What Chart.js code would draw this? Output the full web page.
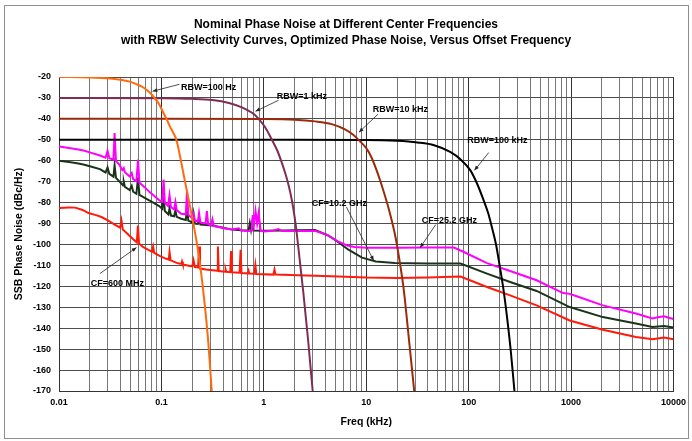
<!DOCTYPE html>
<html>
<head>
<meta charset="utf-8">
<script src="https://cdn.jsdelivr.net/npm/chart.js@4.4.1/dist/chart.umd.min.js"></script>
<style>
  body { margin: 0; background: #fff; }
  canvas { display: block; }
</style>
</head>
<body>
<canvas id="myChart" width="692" height="441"></canvas>
<script>
// offset frequency in kHz, level in dBc/Hz
const rbw100Hz = [[0.01,-20],[0.02,-20.2],[0.03,-20.6],[0.04,-21.3],[0.049,-22.2],[0.057,-23.4],[0.066,-24.9],
  [0.076,-27.2],[0.0857,-30],[0.095,-33],[0.103,-36.5],[0.112,-40],[0.12,-43.2],[0.13,-46.5],[0.14,-50],
  [0.155,-60],[0.17,-70],[0.187,-80],[0.205,-90],[0.223,-100],[0.239,-110],[0.26,-125],[0.285,-145],[0.31,-170]];
const rbw1kHz = [[0.01,-30],[0.1,-30.1],[0.2,-30.4],[0.315,-31],[0.456,-32.4],[0.61,-34.5],[0.798,-37.7],
  [0.89,-40],[1.03,-44],[1.2,-50],[1.35,-55],[1.5,-61],[1.62,-66],[1.75,-72],[1.88,-79],[2.0,-87],
  [2.1,-95],[2.42,-122],[2.71,-146],[3.0,-170]];
const rbw10kHz = [[0.01,-40],[0.1,-40],[1,-40.1],[2,-40.4],[3.17,-41.2],[4.6,-42.5],[6.2,-45],[7.4,-47.5],
  [8.6,-50.5],[10,-54],[11.2,-58.2],[12.5,-64],[14,-71],[16.8,-84],[19.4,-97],[21.5,-110],[23.3,-122],
  [26.2,-146],[29.4,-170]];
const rbw100kHz = [[0.01,-50],[1,-50],[10,-50.1],[20,-50.5],[31.7,-51.3],[46,-52.6],[66,-55.8],[83,-59.3],
  [104,-64.6],[121,-71],[140,-78.9],[155,-85],[169,-92],[185,-100],[199,-109],[218,-121],[236,-134],
  [258,-151],[280,-170]];

const cf25GHz = [[0.01,-53.2],[0.0125,-53.9],[0.015,-54.5],[0.0173,-55.1],[0.02,-56],[0.0251,-57.5],
  [0.0285,-58.5],[0.0298,-55.3],[0.031,-58.8],[0.034,-59.5],[0.0349,-46.8],[0.036,-60.2],[0.039,-62],
  [0.0415,-64.5],[0.0429,-63.5],[0.044,-65.5],[0.049,-67.5],[0.0513,-65.9],[0.053,-68.8],[0.057,-69.8],
  [0.0591,-59.5],[0.061,-70.4],[0.068,-72.5],[0.0767,-75],[0.0958,-79],[0.102,-79.6],[0.105,-69],
  [0.108,-80],[0.116,-81.6],[0.12,-76.5],[0.124,-82.2],[0.133,-83.2],[0.137,-79.7],[0.141,-83.6],
  [0.156,-85.3],[0.173,-85.6],[0.178,-74.1],[0.183,-85.8],[0.2,-87.5],[0.206,-85.5],[0.212,-88.5],
  [0.227,-89],[0.233,-85],[0.24,-89.5],[0.27,-90],[0.278,-84],[0.286,-90.3],[0.305,-90.8],[0.315,-88],
  [0.325,-91.2],[0.363,-91.7],[0.42,-92.4],[0.489,-92.9],[0.57,-92.3],[0.6,-93.3],[0.71,-93.6],
  [0.76,-93.3],[0.78,-86],[0.8,-91],[0.83,-84],[0.86,-90],[0.89,-85],[0.93,-93.3],[1.0,-93.8],
  [1.2,-93.5],[1.39,-92.6],[1.5,-93.6],[2,-93.6],[3.16,-93.5],[4.2,-95.5],[5.3,-98.5],[6.5,-100.5],
  [7.7,-101.2],[10,-101.6],[20,-101.6],[40,-101.5],[72,-101.5],[89.8,-103.6],[151,-108.9],[254,-112.7],
  [461,-117.1],[836,-123.2],[969,-123.6],[1100,-124.5],[2042,-129.1],[4294,-133],[6233,-135.3],
  [7000,-134.8],[8072,-134.3],[9000,-135],[10000,-135.6]];
const cf10GHz = [[0.01,-60],[0.0125,-60.6],[0.015,-61.2],[0.0173,-61.8],[0.02,-62.6],[0.0251,-64],
  [0.0285,-65.6],[0.0298,-63.2],[0.031,-66.3],[0.034,-67.6],[0.0349,-62.2],[0.036,-68.2],[0.04,-70.5],
  [0.0423,-71.8],[0.0429,-70],[0.044,-72.5],[0.049,-74],[0.0513,-72],[0.053,-74.8],[0.057,-75.8],
  [0.0591,-68],[0.061,-76.3],[0.0767,-79],[0.0958,-81.8],[0.102,-83],[0.105,-76.2],[0.108,-84],
  [0.117,-85.7],[0.12,-82.9],[0.124,-86.2],[0.133,-86.5],[0.137,-83.7],[0.141,-86.8],[0.156,-87.7],
  [0.173,-88.3],[0.178,-82.1],[0.183,-88.6],[0.2,-89.5],[0.206,-85.3],[0.212,-90],[0.227,-90.2],
  [0.233,-87.7],[0.24,-90.5],[0.315,-90.9],[0.4,-92],[0.489,-92.9],[0.6,-93.2],[0.71,-93.3],
  [0.73,-89.7],[0.75,-93],[0.77,-89.5],[0.79,-93.3],[1,-93.4],[1.5,-93.3],[2,-93.2],[3.16,-93.1],
  [4.2,-95.6],[5.3,-98.8],[6.7,-102.5],[9.1,-106.3],[12.4,-108.1],[19,-108.9],[40,-109.1],[83.3,-109.1],
  [151,-113.9],[254,-117.9],[461,-122.2],[969,-129.9],[2042,-134.7],[4294,-137.8],[6233,-139.4],
  [8072,-139],[10000,-139.7]];
const cf600MHz = [[0.01,-82.6],[0.0125,-82.3],[0.0144,-82.4],[0.017,-83.5],[0.0194,-85],[0.023,-86],
  [0.026,-86.9],[0.03,-88.5],[0.035,-90.5],[0.0395,-92],[0.0407,-88.5],[0.042,-92.8],[0.048,-95.5],
  [0.053,-97.5],[0.0575,-99],[0.059,-91],[0.0605,-99.6],[0.066,-101.2],[0.081,-103.5],[0.083,-101],
  [0.085,-104],[0.096,-105.5],[0.107,-106.5],[0.118,-107.2],[0.12,-103.6],[0.123,-107.6],[0.145,-109],
  [0.157,-109.3],[0.159,-108.2],[0.162,-109.5],[0.19,-110.3],[0.2,-110.5],[0.206,-107.6],[0.212,-110.8],
  [0.228,-111],[0.233,-101],[0.238,-111.5],[0.272,-112],[0.35,-112.6],[0.356,-101],[0.363,-112.7],
  [0.42,-113],[0.424,-112],[0.43,-113.1],[0.47,-113.2],[0.479,-103.1],[0.488,-113.3],[0.58,-113.5],
  [0.593,-102.5],[0.605,-113.6],[0.7,-113.8],[0.71,-112.7],[0.72,-113.9],[0.81,-114],[0.827,-110],
  [0.845,-114.1],[1.24,-114.4],[1.27,-112],[1.3,-114.4],[2.16,-114.7],[4.57,-115.2],[10,-115.8],
  [20,-116],[40,-115.8],[83.3,-115.3],[151,-120.3],[254,-124.3],[461,-129.1],[969,-136.3],
  [2042,-140.7],[4294,-144.2],[6233,-145.3],[8072,-144.5],[10000,-145.3]];

const xTickLabels = ['0.01', '0.1', '1', '10', '100', '1000', '10000'];
const yTickValues = [-170, -160, -150, -140, -130, -120, -110, -100, -90, -80, -70, -60, -50, -40, -30, -20];
const titleLines = ['Nominal Phase Noise at Different Center Frequencies',
  'with RBW Selectivity Curves, Optimized Phase Noise, Versus Offset Frequency'];

// callouts, in data units: label start, arrow tail, arrow head
const notes = [
  {text: 'RBW=100 Hz', at: [0.155, -24.8], from: [0.150, -23.5], to: [0.082, -26.8]},
  {text: 'RBW=1 kHz', at: [1.334, -29.2], from: [1.394, -31.1], to: [0.83, -36.4]},
  {text: 'RBW=10 kHz', at: [11.6, -35.4], from: [13.0, -37.8], to: [8.49, -46.4]},
  {text: 'RBW=100 kHz', at: [96.9, -50.3], from: [157, -56.1], to: [114, -64.6]},
  {text: 'CF=10.2 GHz', at: [2.93, -80.2], from: [6.4, -82.1], to: [11.8, -107.6]},
  {text: 'CF=25.2 GHz', at: [34.9, -88.5], from: [47.7, -90.5], to: [33.6, -101.5]},
  {text: 'CF=600 MHz', at: [0.0204, -118.7], from: [0.0251, -113.9], to: [0.057, -101.5]}
];

const FONT = '"Liberation Sans", Arial, sans-serif';

function toXY(arr) {
  return arr.map(p => ({x: p[0], y: p[1]}));
}

function isDecade(v) {
  let l = Math.log10(v);
  return Math.abs(l - Math.round(l)) < 1e-6;
}

function line(label, arr, color, smooth) {
  return {
    label: label,
    data: toXY(arr),
    borderColor: color,
    borderWidth: 2,
    pointRadius: 0,
    fill: false,
    tension: 0,
    cubicInterpolationMode: smooth ? 'monotone' : 'default'
  };
}

const decorations = {
  id: 'decorations',
  afterDraw(chart) {
    const ctx = chart.ctx;
    const xs = chart.scales.x, ys = chart.scales.y;
    const area = chart.chartArea;
    ctx.save();

    ctx.strokeStyle = '#8f8f8f';
    ctx.lineWidth = 1;
    ctx.strokeRect(4.5, 5.5, 684, 433);

    ctx.fillStyle = '#000';
    ctx.textAlign = 'center';
    ctx.textBaseline = 'middle';
    ctx.font = 'bold 12px ' + FONT;
    ctx.fillText(titleLines[0], chart.width / 2, 24.5);
    ctx.fillText(titleLines[1], chart.width / 2, 40.5);

    ctx.font = 'bold 10.5px ' + FONT;
    ctx.fillText('Freq (kHz)', (area.left + area.right) / 2, area.bottom + 31);
    ctx.save();
    ctx.translate(19.5, (area.top + area.bottom) / 2);
    ctx.rotate(-Math.PI / 2);
    ctx.fillText('SSB Phase Noise (dBc/Hz)', 0, 0);
    ctx.restore();

    ctx.font = 'bold 9px ' + FONT;
    ctx.textAlign = 'left';
    notes.forEach(n => {
      ctx.fillStyle = '#000';
      ctx.fillText(n.text, xs.getPixelForValue(n.at[0]), ys.getPixelForValue(n.at[1]));
      let x1 = xs.getPixelForValue(n.from[0]), y1 = ys.getPixelForValue(n.from[1]);
      let x2 = xs.getPixelForValue(n.to[0]), y2 = ys.getPixelForValue(n.to[1]);
      ctx.strokeStyle = '#222';
      ctx.lineWidth = 0.8;
      ctx.beginPath();
      ctx.moveTo(x1, y1);
      ctx.lineTo(x2, y2);
      ctx.stroke();
      let a = Math.atan2(y2 - y1, x2 - x1);
      ctx.fillStyle = '#222';
      ctx.beginPath();
      ctx.moveTo(x2, y2);
      ctx.lineTo(x2 - 5 * Math.cos(a - 0.4), y2 - 5 * Math.sin(a - 0.4));
      ctx.lineTo(x2 - 5 * Math.cos(a + 0.4), y2 - 5 * Math.sin(a + 0.4));
      ctx.closePath();
      ctx.fill();
    });
    ctx.restore();
  }
};

// grid lines at 1..9 of every decade
const xGrid = [];
for (let e = -2; e < 4; e++) {
  for (let m = 1; m < 10; m++) xGrid.push(Number((m * Math.pow(10, e)).toPrecision(6)));
}
xGrid.push(10000);

new Chart(document.getElementById('myChart'), {
  type: 'line',
  data: {
    datasets: [
      line('RBW=100 Hz', rbw100Hz, '#ff6a0d', true),
      line('RBW=1 kHz', rbw1kHz, '#7f2d55', true),
      line('RBW=10 kHz', rbw10kHz, '#9a2a0a', true),
      line('RBW=100 kHz', rbw100kHz, '#000000', true),
      line('CF=25.2 GHz', cf25GHz, '#ff00ff', false),
      line('CF=10.2 GHz', cf10GHz, '#1a331a', false),
      line('CF=600 MHz', cf600MHz, '#ff1a0a', false)
    ]
  },
  options: {
    responsive: false,
    animation: false,
    events: [],
    layout: { padding: { left: 0, right: 14, top: 77, bottom: 0 } },
    plugins: {
      legend: { display: false },
      tooltip: { enabled: false },
      title: { display: false }
    },
    scales: {
      x: {
        type: 'logarithmic',
        min: 0.01,
        max: 10000,
        afterFit: s => { s.height = 50; },
        afterBuildTicks: s => { s.ticks = xGrid.map(v => ({value: v})); },
        grid: {
          drawTicks: false,
          color: c => isDecade(c.tick.value) ? '#333' : '#777',
          lineWidth: 1
        },
        border: { color: '#333' },
        ticks: {
          autoSkip: false,
          maxRotation: 0,
          padding: 6,
          color: '#000',
          font: { family: FONT, size: 9, weight: 'bold' },
          callback: v => {
            let s = xTickLabels.find(t => Math.abs(Number(t) / v - 1) < 1e-6);
            return s === undefined ? '' : s;
          }
        }
      },
      y: {
        min: -170,
        max: -20,
        afterFit: s => { s.width = 59; },
        afterBuildTicks: s => { s.ticks = yTickValues.map(v => ({value: v})); },
        grid: { drawTicks: false, color: '#4d4d4d', lineWidth: 1 },
        border: { color: '#333' },
        ticks: {
          padding: 8,
          color: '#000',
          font: { family: FONT, size: 9, weight: 'bold' }
        }
      }
    }
  },
  plugins: [decorations]
});
</script>
</body>
</html>
